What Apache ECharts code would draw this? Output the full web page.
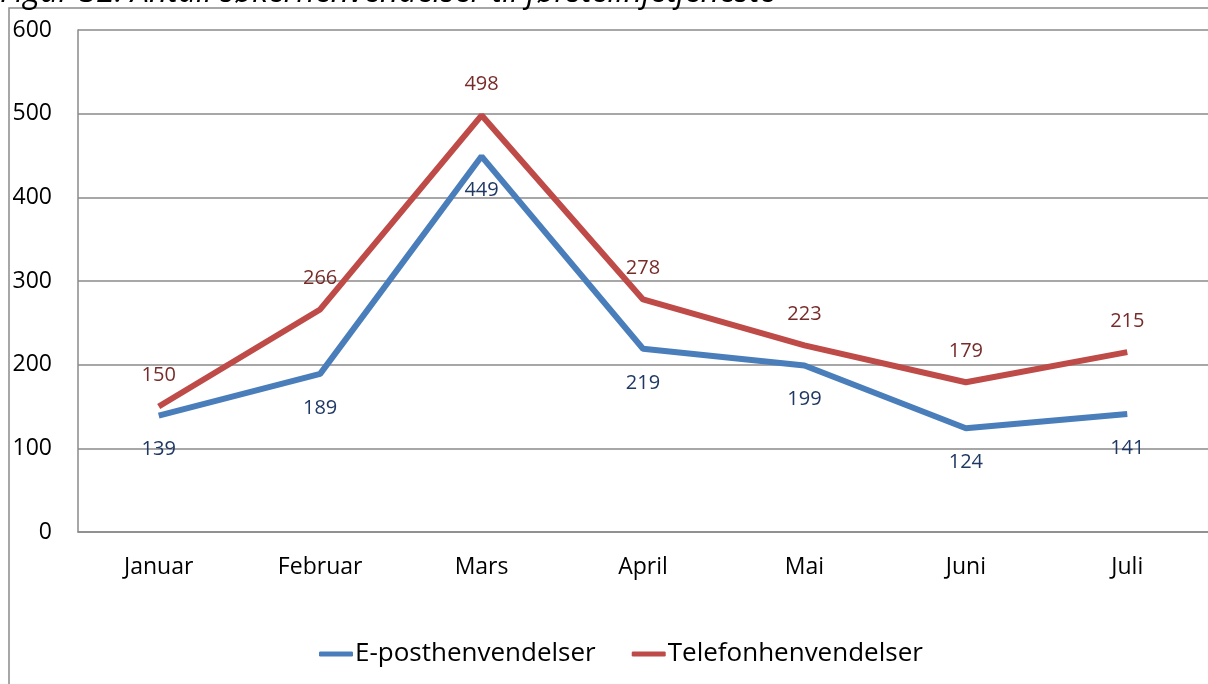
<!DOCTYPE html>
<html><head><meta charset="utf-8">
<script src="https://cdn.jsdelivr.net/npm/echarts@6/dist/echarts.min.js"></script>
<style>html,body{margin:0;padding:0;background:#fff}#c{width:1208px;height:684px}</style>
</head><body><div id="c"></div>
<script>
const categories = ['Januar','Februar','Mars','April','Mai','Juni','Juli'];
const epost = [139, 189, 449, 219, 199, 124, 141];
const telefon = [150, 266, 498, 278, 223, 179, 215];
const yTicks = [0, 100, 200, 300, 400, 500, 600];
const seriesNames = ['E-posthenvendelser', 'Telefonhenvendelser'];
const titleText = 'Figur 32: Antall søkerhenvendelser til førstelinjetjeneste';

const chart = echarts.init(document.getElementById('c'));
const font = '"Open Sans", "DejaVu Sans", sans-serif';
chart.setOption({
  animation: false,
  graphic: [
    {type:'rect', shape:{x:9, y:8, width:1300, height:800}, style:{fill:'none', stroke:'#8a8a8a', lineWidth:1.5}, z:-1},
    {type:'text', left:0, top:-23, style:{text:titleText, font:'italic 32px "Open Sans", "DejaVu Sans", sans-serif', fill:'#000'}}
  ],
  grid: {left:78, right:-4, top:30, bottom:152, containLabel:false},
  legend: {
    data: seriesNames, left: 314, top: 636, itemWidth: 34, itemHeight: 5, itemGap: 36,
    icon: 'roundRect',
    textStyle: {fontFamily:'"Liberation Sans Narrow", "Open Sans", sans-serif', fontSize: 26, color:'#000', padding:[0,0,0,-3]}
  },
  xAxis: {
    type:'category', data: categories, boundaryGap: true,
    axisLine:{show:true, lineStyle:{color:'#8a8a8a', width:1.5}},
    axisTick:{show:false},
    axisLabel:{fontFamily:font, fontSize:23, color:'#000', margin:24}
  },
  yAxis: {
    type:'value', min: yTicks[0], max: yTicks[yTicks.length-1], interval: 100,
    axisLine:{show:true, lineStyle:{color:'#8a8a8a', width:1.5}},
    axisTick:{show:false},
    splitLine:{show:true, lineStyle:{color:'#8a8a8a', width:1.5}},
    axisLabel:{fontFamily:font, fontSize:23, color:'#000', margin:26, align:'right'}
  },
  series: [
    {name: seriesNames[0], type:'line', data: epost, symbol:'circle', symbolSize:0.1, showSymbol:true, z:3,
     lineStyle:{color:'#4a7ebb', width:6}, itemStyle:{color:'#4a7ebb'},
     label:{show:true, position:'bottom', distance:24, fontFamily:font, fontSize:20, color:'#1f3864'}},
    {name: seriesNames[1], type:'line', data: telefon, symbol:'circle', symbolSize:0.1, showSymbol:true, z:2,
     lineStyle:{color:'#be4b48', width:6}, itemStyle:{color:'#be4b48'},
     label:{show:true, position:'top', distance:21, fontFamily:font, fontSize:20, color:'#772c2a'}}
  ]
});
</script></body></html>
